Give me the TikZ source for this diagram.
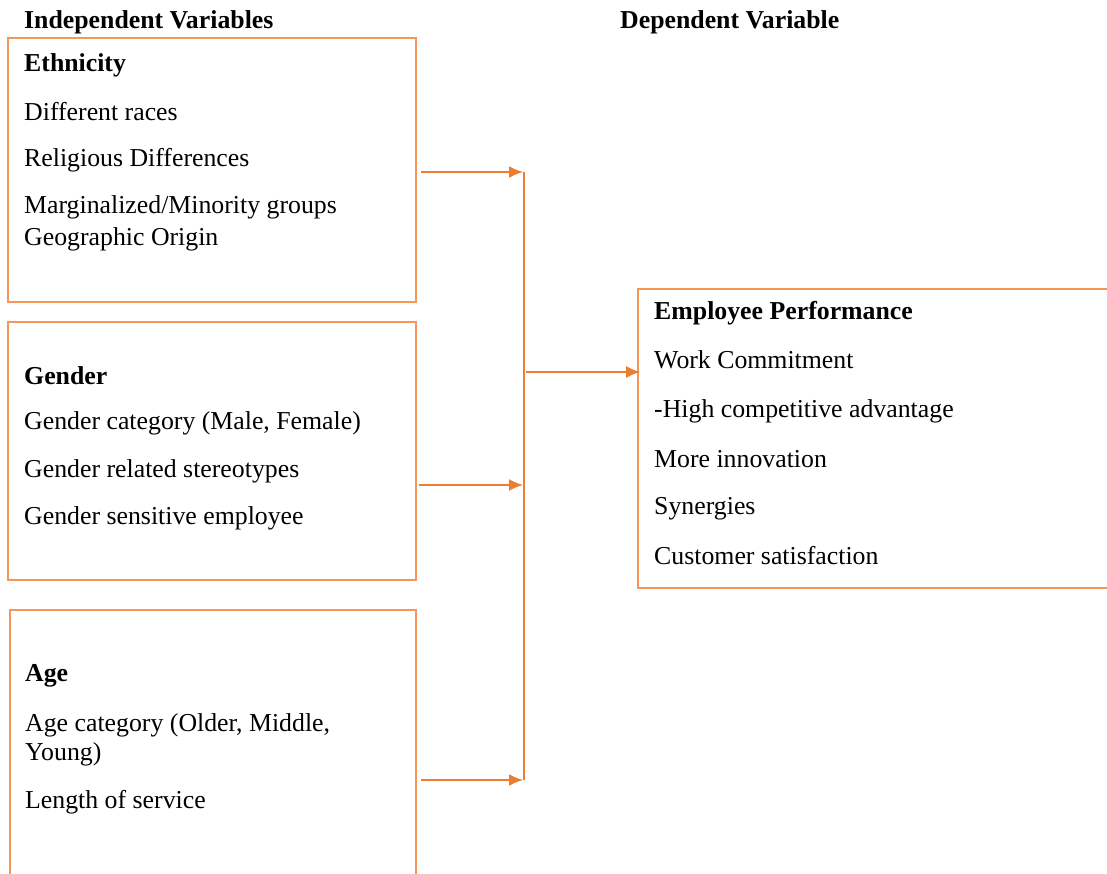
\documentclass[tikz,border=0pt]{standalone}
\usepackage{fontspec}
\setmainfont{Liberation Serif}
\usetikzlibrary{arrows.meta}
\definecolor{boxorange}{RGB}{244,150,90}
\definecolor{arrorange}{RGB}{237,125,49}
\tikzset{
 varbox/.style={draw=boxorange,line width=1.6pt,rectangle,inner sep=0pt},
 item/.style={anchor=west,inner sep=0pt,yshift=-2pt,font=\fontsize{25.8}{28}\selectfont},
 head/.style={item,font=\fontsize{25.8}{28}\selectfont\bfseries},
 link/.style={draw=arrorange,line width=1.8pt,-{Latex[length=14pt,width=12pt]}},
}
\begin{document}
\begin{tikzpicture}[x=1pt,y=-1pt]
 \clip (0,0) rectangle (1107,873);
 \fill[white] (0,0) rectangle (1107,873);
 \node[head] (indep) at (24,20) {Independent Variables};
 \node[head] (dep) at (620,20) {Dependent Variable};
 % boxes
 \node[varbox,minimum width=408pt,minimum height=264pt] (eth) at (212,170) {};
 \node[varbox,minimum width=408pt,minimum height=258pt] (gen) at (212,451) {};
 \node[varbox,minimum width=406pt,minimum height=300pt] (age) at (213,760) {};
 \node[varbox,minimum width=502pt,minimum height=299pt] (perf) at (889,438.5) {};
 % Ethnicity
 \node[head] (ethA) at (24,63) {Ethnicity};
 \node[item] (ethB) at (24,110) {Different races};
 \node[item] (ethC) at (24,158) {Religious Differences};
 \node[item] (ethD) at (24,205) {Marginalized/Minority groups};
 \node[item] (ethE) at (24,237) {Geographic Origin};
 % Gender
 \node[head] (genA) at (24,374) {Gender};
 \node[item] (genB) at (24,421) {Gender category (Male, Female)};
 \node[item] (genC) at (24,469) {Gender related stereotypes};
 \node[item] (genD) at (24,516) {Gender sensitive employee};
 % Age
 \node[head] (ageA) at (25,674) {Age};
 \node[item] (ageB) at (25,723) {Age category (Older, Middle,};
 \node[item] (ageC) at (25,752) {Young)};
 \node[item] (ageD) at (25,800) {Length of service};
 % Employee Performance
 \node[head] (perfA) at (654,311) {Employee Performance};
 \node[item] (perfB) at (654,358) {Work Commitment};
 \node[item] (perfC) at (654,409) {-High competitive advantage};
 \node[item] (perfD) at (654,457) {More innovation};
 \node[item] (perfE) at (654,507) {Synergies};
 \node[item] (perfF) at (654,554) {Customer satisfaction};
 % connectors
 \coordinate (jTop) at (524,172);
 \coordinate (jMid) at (524,372);
 \coordinate (jGen) at (524,485);
 \coordinate (jBot) at (524,780);
 \draw[draw=arrorange,line width=1.8pt] (jTop) -- (jBot);
 \draw[link] ([xshift=4pt]eth.east |- jTop) -- ([xshift=-1pt]jTop);
 \draw[link] ([xshift=2pt]gen.east |- jGen) -- ([xshift=-1pt]jGen);
 \draw[link] ([xshift=4pt]age.east |- jBot) -- ([xshift=-1pt]jBot);
 \draw[link] ([xshift=2pt]jMid) -- ([xshift=3pt]perf.west |- jMid);
\end{tikzpicture}
\end{document}
